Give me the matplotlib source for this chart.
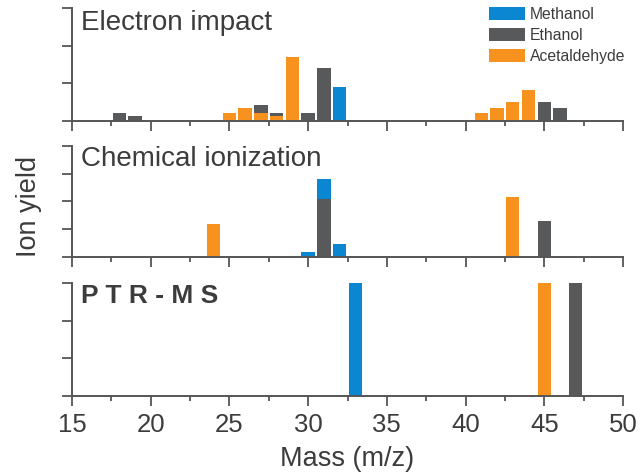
import matplotlib
matplotlib.use("Agg")
import matplotlib.pyplot as plt
from matplotlib.ticker import MultipleLocator

plt.rcParams['font.family'] = ['Liberation Sans', 'DejaVu Sans']

# ---- data ----
compounds = ["Methanol", "Ethanol", "Acetaldehyde"]
colors = ["#0a87d0", "#58595b", "#f7921e"]

ei_methanol_mz = [32]
ei_methanol = [0.91]
ei_ethanol_mz = [18, 19, 27, 28, 30, 31, 45, 46]
ei_ethanol = [0.22, 0.13, 0.42, 0.22, 0.22, 1.40, 0.51, 0.34]
ei_acet_mz = [25, 26, 27, 28, 29, 41, 42, 43, 44]
ei_acet = [0.22, 0.34, 0.22, 0.14, 1.70, 0.22, 0.34, 0.51, 0.82]

ci_methanol_mz = [30, 31, 32]
ci_methanol = [0.18, 2.80, 0.49]
ci_ethanol_mz = [31, 45]
ci_ethanol = [2.08, 1.30]
ci_acet_mz = [24, 43]
ci_acet = [1.18, 2.17]

ptr_methanol_mz = [33]
ptr_methanol = [3.0]
ptr_ethanol_mz = [47]
ptr_ethanol = [3.0]
ptr_acet_mz = [45]
ptr_acet = [3.0]

panel_titles = ["Electron impact", "Chemical ionization", "P T R - M S"]
xlim = (15, 50)
xticks = [15, 20, 25, 30, 35, 40, 45, 50]

panels = [
    ([ei_methanol_mz, ei_ethanol_mz, ei_acet_mz], [ei_methanol, ei_ethanol, ei_acet], 3),
    ([ci_methanol_mz, ci_ethanol_mz, ci_acet_mz], [ci_methanol, ci_ethanol, ci_acet], 4),
    ([ptr_methanol_mz, ptr_ethanol_mz, ptr_acet_mz], [ptr_methanol, ptr_ethanol, ptr_acet], 3),
]

W, H = 641, 475
fig = plt.figure(figsize=(W / 100, H / 100), dpi=100)

# axes boxes in pixels: (top, bottom)
boxes = [(8, 121), (145.7, 257.3), (283.3, 396)]
left_px, right_px = 72, 623
spine_col = "#555555"
text_col = "#3c3c3c"

axes = []
for i, ((mzs, vals, ymax), (t, b)) in enumerate(zip(panels, boxes)):
    ax = fig.add_axes([left_px / W, 1 - b / H, (right_px - left_px) / W, (b - t) / H])
    for mz, v, c, name in zip(mzs, vals, colors, compounds):
        ax.bar(mz, v, width=0.85, color=c, linewidth=0, label=name, zorder=2)
    ax.set_xlim(*xlim)
    ax.set_ylim(0, ymax)
    ax.set_yticks(range(0, ymax + 1))
    ax.set_yticklabels([])
    ax.set_xticks(xticks)
    ax.xaxis.set_minor_locator(MultipleLocator(2.5))
    for s in ["top", "right"]:
        ax.spines[s].set_visible(False)
    for s in ["left", "bottom"]:
        ax.spines[s].set_color(spine_col)
        ax.spines[s].set_linewidth(1.4)
    ax.tick_params(axis="both", which="major", direction="out", length=7, width=1.3,
                   color=spine_col, labelsize=18.5, labelcolor=text_col)
    ax.tick_params(axis="x", which="minor", direction="out", length=3.5, width=1.3,
                   color=spine_col)
    if i < 2:
        ax.set_xticklabels([])
    else:
        ax.tick_params(axis="x", pad=5)
    ax.set_facecolor("none")
    axes.append(ax)

# panel titles
axes[0].text(0.017, 0.985, panel_titles[0], transform=axes[0].transAxes, ha="left", va="top",
             fontsize=20, color=text_col)
axes[1].text(0.017, 1.0, panel_titles[1], transform=axes[1].transAxes, ha="left", va="top",
             fontsize=20, color=text_col)
axes[2].text(0.017, 0.99, panel_titles[2], transform=axes[2].transAxes, ha="left", va="top",
             fontsize=19, fontweight="bold", color=text_col)

# legend
leg = axes[0].legend(loc="upper right", bbox_to_anchor=(1.015, 1.065), frameon=False,
                     fontsize=11.3, handlelength=2.3, handleheight=0.85,
                     handletextpad=0.3, labelspacing=0.38, borderaxespad=0)
for txt in leg.get_texts():
    txt.set_color(text_col)

fig.text(0.045, 1 - 206 / H, "Ion yield", rotation=90, ha="center", va="center",
         fontsize=19.5, color=text_col)
fig.text((left_px + right_px) / 2 / W, 1 - 466 / H, "Mass (m/z)", ha="center", va="baseline",
         fontsize=19.5, color=text_col)

fig.savefig("out.png", dpi=100)
